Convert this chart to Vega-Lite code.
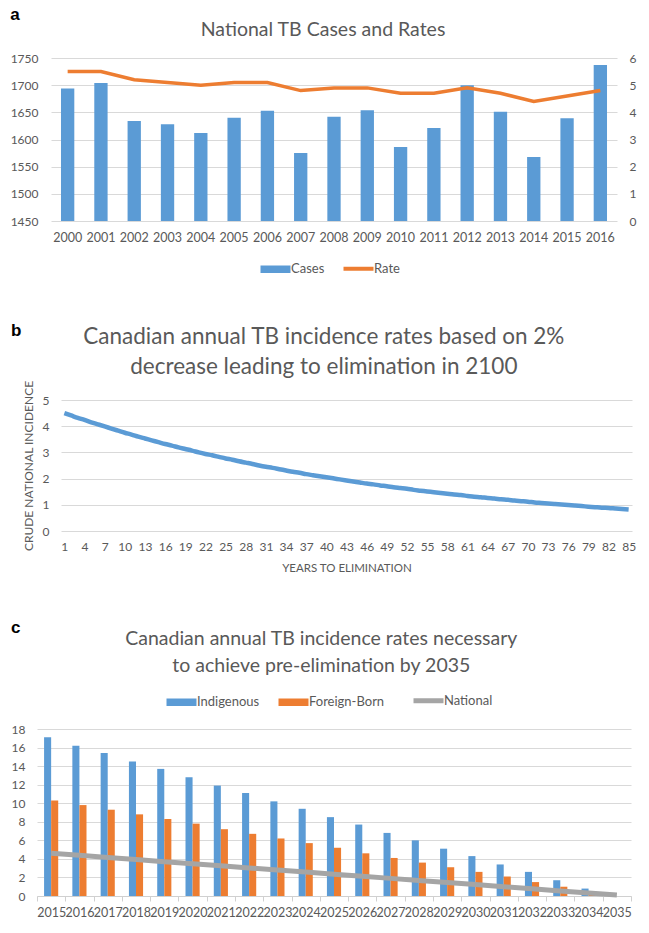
{
  "$schema": "https://vega.github.io/schema/vega-lite/v6.json",
  "background": "white",
  "padding": {"left": 10, "right": 0, "top": 5, "bottom": 5},
  "spacing": 44,
  "resolve": {"scale": {"color": "independent", "x": "independent", "y": "independent"}, "legend": {"color": "independent"}},
  "config": {
    "font": "Lato",
    "view": {"stroke": null},
    "axis": {"labelFont": "Lato", "labelColor": "#595959", "labelFontSize": 12, "titleFont": "Lato", "titleColor": "#595959", "titleFontWeight": "normal", "gridColor": "#D9D9D9", "gridWidth": 1, "domain": false, "ticks": false, "labelOverlap": false},
    "legend": {"labelFont": "Lato", "labelColor": "#595959", "labelFontSize": 13, "layout": {"anchor": "middle", "bottom": {"anchor": "middle"}, "top": {"anchor": "middle"}}},
    "title": {"font": "Lato", "color": "#595959", "fontWeight": "normal"}
  },
  "datasets": {
    "a": [
      {"year": "2000", "cases": 1694, "rate": 5.5},
      {"year": "2001", "cases": 1704, "rate": 5.5},
      {"year": "2002", "cases": 1634, "rate": 5.2},
      {"year": "2003", "cases": 1628, "rate": 5.1},
      {"year": "2004", "cases": 1612, "rate": 5.0},
      {"year": "2005", "cases": 1640, "rate": 5.1},
      {"year": "2006", "cases": 1653, "rate": 5.1},
      {"year": "2007", "cases": 1575, "rate": 4.8},
      {"year": "2008", "cases": 1642, "rate": 4.9},
      {"year": "2009", "cases": 1654, "rate": 4.9},
      {"year": "2010", "cases": 1586, "rate": 4.7},
      {"year": "2011", "cases": 1621, "rate": 4.7},
      {"year": "2012", "cases": 1700, "rate": 4.9},
      {"year": "2013", "cases": 1651, "rate": 4.7},
      {"year": "2014", "cases": 1568, "rate": 4.4},
      {"year": "2015", "cases": 1639, "rate": 4.6},
      {"year": "2016", "cases": 1737, "rate": 4.8}
    ],
    "b": [
      {"t": 1, "v": 4.50}, {"t": 2, "v": 4.41}, {"t": 3, "v": 4.32}, {"t": 4, "v": 4.24}, {"t": 5, "v": 4.15},
      {"t": 6, "v": 4.07}, {"t": 7, "v": 3.99}, {"t": 8, "v": 3.91}, {"t": 9, "v": 3.83}, {"t": 10, "v": 3.75},
      {"t": 11, "v": 3.68}, {"t": 12, "v": 3.60}, {"t": 13, "v": 3.53}, {"t": 14, "v": 3.46}, {"t": 15, "v": 3.39},
      {"t": 16, "v": 3.32}, {"t": 17, "v": 3.26}, {"t": 18, "v": 3.19}, {"t": 19, "v": 3.13}, {"t": 20, "v": 3.07},
      {"t": 21, "v": 3.00}, {"t": 22, "v": 2.94}, {"t": 23, "v": 2.89}, {"t": 24, "v": 2.83}, {"t": 25, "v": 2.77},
      {"t": 26, "v": 2.72}, {"t": 27, "v": 2.66}, {"t": 28, "v": 2.61}, {"t": 29, "v": 2.56}, {"t": 30, "v": 2.50},
      {"t": 31, "v": 2.45}, {"t": 32, "v": 2.41}, {"t": 33, "v": 2.36}, {"t": 34, "v": 2.31}, {"t": 35, "v": 2.26},
      {"t": 36, "v": 2.22}, {"t": 37, "v": 2.17}, {"t": 38, "v": 2.13}, {"t": 39, "v": 2.09}, {"t": 40, "v": 2.05},
      {"t": 41, "v": 2.01}, {"t": 42, "v": 1.97}, {"t": 43, "v": 1.93}, {"t": 44, "v": 1.89}, {"t": 45, "v": 1.85},
      {"t": 46, "v": 1.81}, {"t": 47, "v": 1.78}, {"t": 48, "v": 1.74}, {"t": 49, "v": 1.71}, {"t": 50, "v": 1.67},
      {"t": 51, "v": 1.64}, {"t": 52, "v": 1.61}, {"t": 53, "v": 1.57}, {"t": 54, "v": 1.54}, {"t": 55, "v": 1.51},
      {"t": 56, "v": 1.48}, {"t": 57, "v": 1.45}, {"t": 58, "v": 1.42}, {"t": 59, "v": 1.39}, {"t": 60, "v": 1.37},
      {"t": 61, "v": 1.34}, {"t": 62, "v": 1.31}, {"t": 63, "v": 1.29}, {"t": 64, "v": 1.26}, {"t": 65, "v": 1.24},
      {"t": 66, "v": 1.21}, {"t": 67, "v": 1.19}, {"t": 68, "v": 1.16}, {"t": 69, "v": 1.14}, {"t": 70, "v": 1.12},
      {"t": 71, "v": 1.09}, {"t": 72, "v": 1.07}, {"t": 73, "v": 1.05}, {"t": 74, "v": 1.03}, {"t": 75, "v": 1.01},
      {"t": 76, "v": 0.99}, {"t": 77, "v": 0.97}, {"t": 78, "v": 0.95}, {"t": 79, "v": 0.93}, {"t": 80, "v": 0.91},
      {"t": 81, "v": 0.89}, {"t": 82, "v": 0.88}, {"t": 83, "v": 0.86}, {"t": 84, "v": 0.84}, {"t": 85, "v": 0.82}
    ],
    "c": [
      {"year": "2015", "Indigenous": 17.1, "Foreign-Born": 10.3, "National": 4.6},
      {"year": "2016", "Indigenous": 16.2, "Foreign-Born": 9.8, "National": 4.38},
      {"year": "2017", "Indigenous": 15.4, "Foreign-Born": 9.3, "National": 4.15},
      {"year": "2018", "Indigenous": 14.5, "Foreign-Born": 8.8, "National": 3.93},
      {"year": "2019", "Indigenous": 13.7, "Foreign-Born": 8.3, "National": 3.7},
      {"year": "2020", "Indigenous": 12.8, "Foreign-Born": 7.8, "National": 3.48},
      {"year": "2021", "Indigenous": 11.9, "Foreign-Born": 7.2, "National": 3.25},
      {"year": "2022", "Indigenous": 11.1, "Foreign-Born": 6.7, "National": 3.03},
      {"year": "2023", "Indigenous": 10.2, "Foreign-Born": 6.2, "National": 2.8},
      {"year": "2024", "Indigenous": 9.4, "Foreign-Born": 5.7, "National": 2.58},
      {"year": "2025", "Indigenous": 8.5, "Foreign-Born": 5.2, "National": 2.35},
      {"year": "2026", "Indigenous": 7.7, "Foreign-Born": 4.6, "National": 2.13},
      {"year": "2027", "Indigenous": 6.8, "Foreign-Born": 4.1, "National": 1.9},
      {"year": "2028", "Indigenous": 6.0, "Foreign-Born": 3.6, "National": 1.68},
      {"year": "2029", "Indigenous": 5.1, "Foreign-Born": 3.1, "National": 1.45},
      {"year": "2030", "Indigenous": 4.3, "Foreign-Born": 2.6, "National": 1.23},
      {"year": "2031", "Indigenous": 3.4, "Foreign-Born": 2.1, "National": 1.0},
      {"year": "2032", "Indigenous": 2.6, "Foreign-Born": 1.5, "National": 0.78},
      {"year": "2033", "Indigenous": 1.7, "Foreign-Born": 1.0, "National": 0.55},
      {"year": "2034", "Indigenous": 0.8, "Foreign-Born": 0.5, "National": 0.33},
      {"year": "2035", "Indigenous": 0, "Foreign-Born": 0, "National": 0.1}
    ]
  },
  "vconcat": [
    {
      "title": {"text": "a", "anchor": "start", "frame": "bounds", "font": "Liberation Sans", "fontWeight": "bold", "fontSize": 17, "color": "#000000", "offset": -4},
      "resolve": {"scale": {"color": "independent"}, "legend": {"color": "independent"}},
      "align": "none",
      "bounds": "flush",
      "spacing": 0,
      "hconcat": [
        {"width": 14, "height": 1, "data": {"values": []}, "mark": "point"},
        {
          "title": {"text": "National TB Cases and Rates", "fontSize": 19.5, "anchor": "middle", "frame": "bounds", "offset": 12},
          "width": 566,
          "height": 163,
          "data": {"name": "a"},
          "encoding": {
            "x": {"field": "year", "type": "ordinal", "scale": {"paddingInner": 0.6, "paddingOuter": 0.3}, "axis": {"title": null, "labelAngle": 0, "labelPadding": 10, "labelFontSize": 12.5}}
          },
          "layer": [
            {
              "mark": {"type": "bar"},
              "encoding": {
                "y": {"field": "cases", "type": "quantitative", "scale": {"domain": [1450, 1750], "zero": false, "nice": false}, "axis": {"title": null, "format": "d", "values": [1450, 1500, 1550, 1600, 1650, 1700, 1750], "grid": true, "labelPadding": 13}},
                "y2": {"datum": 1450},
                "color": {"datum": "Cases", "type": "nominal", "scale": {"domain": ["Cases", "Rate"], "range": ["#5B9BD5", "#ED7D31"]},
                  "legend": {"orient": "bottom", "direction": "horizontal", "title": null, "symbolSize": 900, "labelOffset": 9, "columnPadding": 10, "offset": 18,
                    "encode": {"symbols": {"update": {
                      "shape": {"signal": "datum.value === 'Rate' ? 'M-1,0H1' : 'M-1,-0.25H1V0.25H-1Z'"},
                      "stroke": {"signal": "datum.value === 'Rate' ? '#ED7D31' : 'transparent'"},
                      "strokeWidth": {"signal": "datum.value === 'Rate' ? 4 : 0"}
                    }}}}}
              }
            },
            {
              "mark": {"type": "line", "strokeWidth": 3.5},
              "encoding": {
                "y": {"field": "rate", "type": "quantitative", "scale": {"domain": [0, 6], "nice": false}, "axis": {"title": null, "orient": "right", "grid": false, "values": [0, 1, 2, 3, 4, 5, 6], "labelPadding": 12}},
                "color": {"datum": "Rate", "type": "nominal"}
              }
            }
          ],
          "resolve": {"scale": {"y": "independent"}}
        }
      ]
    },
    {
      "title": {"text": "b", "anchor": "start", "frame": "bounds", "font": "Liberation Sans", "fontWeight": "bold", "fontSize": 17, "color": "#000000", "offset": -14, "dx": -11},
      "align": "none",
      "bounds": "flush",
      "spacing": 0,
      "hconcat": [
        {"width": 24, "height": 1, "data": {"values": []}, "mark": "point"},
        {
          "title": {"text": ["Canadian annual TB incidence rates based on 2%", "decrease leading to elimination in 2100"], "fontSize": 22.5, "lineHeight": 30, "anchor": "middle", "frame": "bounds", "offset": 2, "dx": -6},
          "width": 571,
          "height": 131,
          "data": {"name": "b"},
          "mark": {"type": "line", "strokeWidth": 4.5, "color": "#5B9BD5", "interpolate": "monotone"},
          "encoding": {
            "x": {"field": "t", "type": "ordinal", "scale": {"type": "point", "padding": 0.5},
              "axis": {"title": "YEARS TO ELIMINATION", "values": [1, 4, 7, 10, 13, 16, 19, 22, 25, 28, 31, 34, 37, 40, 43, 46, 49, 52, 55, 58, 61, 64, 67, 70, 73, 76, 79, 82, 85], "labelAngle": 0, "labelPadding": 10, "titlePadding": 10, "titleFontSize": 11.5, "labelFontSize": 12}},
            "y": {"field": "v", "type": "quantitative", "scale": {"domain": [0, 5], "nice": false},
              "axis": {"title": "CRUDE NATIONAL INCIDENCE", "values": [0, 1, 2, 3, 4, 5], "grid": true, "labelPadding": 12, "titlePadding": 7, "titleFontSize": 12}}
          }
        }
      ]
    },
    {
      "title": {"text": "c", "anchor": "start", "frame": "bounds", "font": "Liberation Sans", "fontWeight": "bold", "fontSize": 17, "color": "#000000", "offset": -8},
      "resolve": {"scale": {"color": "independent"}, "legend": {"color": "independent"}},
      "vconcat": [
        {
          "title": {"text": ["Canadian annual TB incidence rates necessary", "to achieve pre-elimination by 2035"], "fontSize": 19.5, "lineHeight": 27, "anchor": "middle", "frame": "bounds", "offset": 18},
          "width": 594,
          "height": 167,
          "data": {"name": "c"},
          "encoding": {
            "x": {"field": "year", "type": "ordinal", "scale": {"paddingInner": 0, "paddingOuter": 0},
              "axis": {"title": null, "labelAngle": 0, "domain": true, "domainColor": "#D0D0D0", "ticks": true, "tickColor": "#D0D0D0", "tickBand": "extent", "tickSize": 5, "labelPadding": 5, "labelFontSize": 12.5}}
          },
          "layer": [
            {
              "transform": [{"fold": ["Indigenous", "Foreign-Born"], "as": ["series", "value"]}],
              "mark": {"type": "bar"},
              "encoding": {
                "xOffset": {"field": "series", "type": "nominal", "sort": ["Indigenous", "Foreign-Born"], "scale": {"paddingInner": 0, "paddingOuter": 1.5}},
                "y": {"field": "value", "type": "quantitative", "scale": {"domain": [0, 18], "nice": false}, "axis": {"title": null, "values": [0, 2, 4, 6, 8, 10, 12, 14, 16, 18], "grid": true, "labelPadding": 12}},
                "color": {"field": "series", "type": "nominal", "scale": {"domain": ["Indigenous", "Foreign-Born", "National"], "range": ["#5B9BD5", "#ED7D31", "#A5A5A5"]},
                  "legend": {"orient": "top", "direction": "horizontal", "title": null, "symbolSize": 900, "labelOffset": 9, "columnPadding": 18, "offset": 18,
                    "encode": {"symbols": {"update": {
                      "shape": {"signal": "datum.value === 'National' ? 'M-1,0H1' : 'M-1,-0.25H1V0.25H-1Z'"},
                      "stroke": {"signal": "datum.value === 'National' ? '#A5A5A5' : 'transparent'"},
                      "strokeWidth": {"signal": "datum.value === 'National' ? 5 : 0"}
                    }}}}}
              }
            },
            {
              "mark": {"type": "line", "strokeWidth": 5},
              "encoding": {
                "x": {"field": "year", "type": "ordinal", "bandPosition": 0.5},
                "y": {"field": "National", "type": "quantitative", "scale": {"domain": [0, 18], "nice": false}, "axis": {"title": null, "values": [0, 2, 4, 6, 8, 10, 12, 14, 16, 18], "grid": true, "labelPadding": 12}},
                "color": {"datum": "National", "type": "nominal"}
              }
            }
          ]
        }
      ]
    }
  ]
}
